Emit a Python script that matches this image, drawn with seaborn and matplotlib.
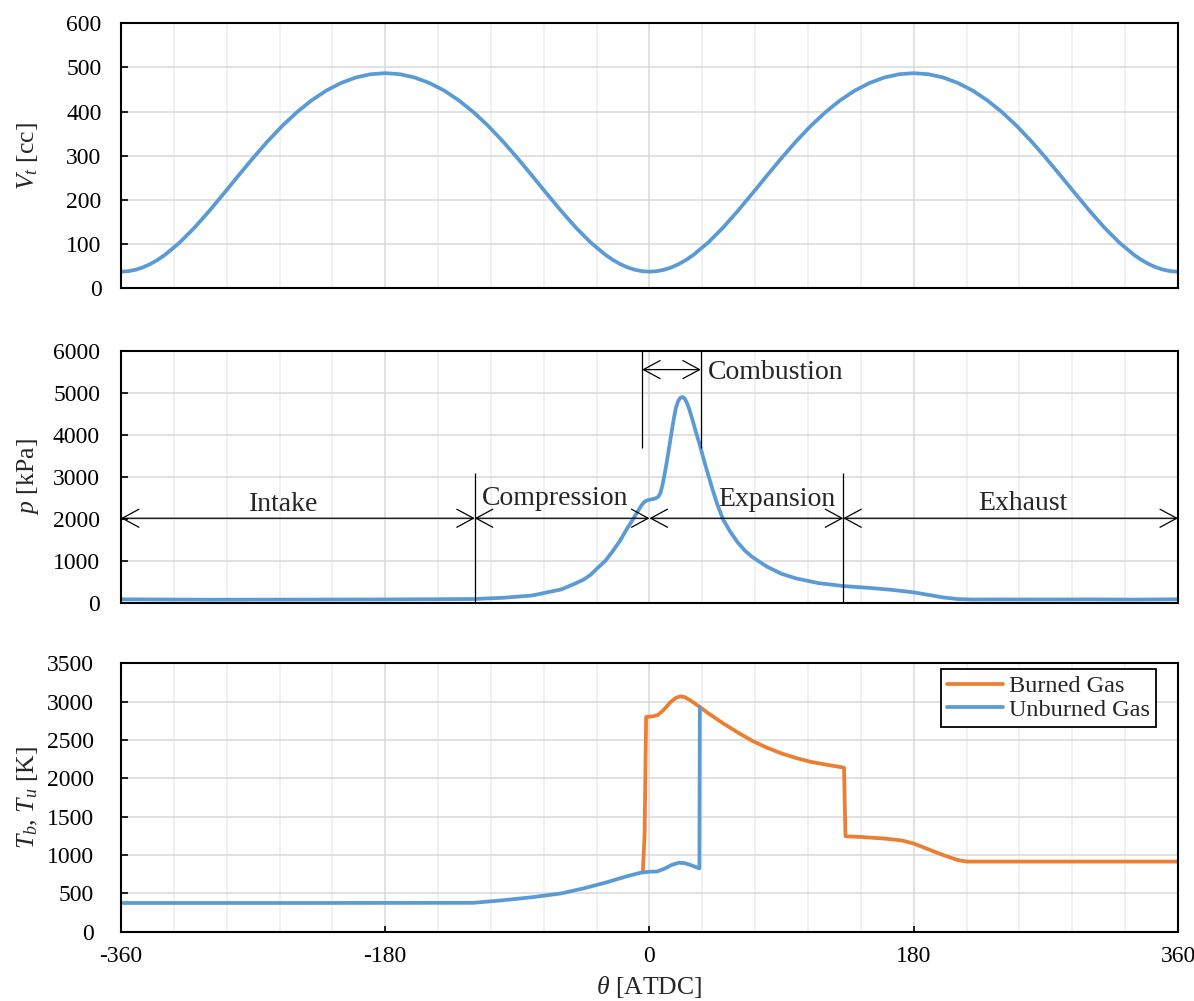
import numpy as np
import pandas as pd
import matplotlib
matplotlib.use("Agg")
import matplotlib.pyplot as plt
import seaborn as sns
from matplotlib.ticker import MultipleLocator, FixedLocator
from matplotlib.patches import ArrowStyle

# ---------------- data ----------------
theta_v = [-360, -355, -350, -345, -340, -335, -330, -320, -310, -300, -290, -280,
           -270, -260, -250, -240, -230, -220, -210, -200, -190, -180,
           -170, -160, -150, -140, -130, -120, -110, -100, -90, -80, -70, -60,
           -50, -40, -30, -25, -20, -15, -10, -5, 0,
           5, 10, 15, 20, 25, 30, 40, 50, 60, 70, 80, 90, 100, 110, 120, 130,
           140, 150, 160, 170, 180,
           190, 200, 210, 220, 230, 240, 250, 260, 270, 280, 290, 300, 310, 320,
           330, 335, 340, 345, 350, 355, 360]
vol = [37.0, 38.1, 41.4, 46.8, 54.3, 63.8, 75.2, 103.0, 136.5, 174.0, 214.0, 254.7,
       294.8, 332.9, 367.9, 399.0, 425.7, 447.8, 464.9, 477.2, 484.6, 487.0,
       484.6, 477.2, 464.9, 447.8, 425.7, 399.0, 367.9, 332.9, 294.8, 254.7, 214.0, 174.0,
       136.5, 103.0, 75.2, 63.8, 54.3, 46.8, 41.4, 38.1, 37.0,
       38.1, 41.4, 46.8, 54.3, 63.8, 75.2, 103.0, 136.5, 174.0, 214.0, 254.7, 294.8,
       332.9, 367.9, 399.0, 425.7, 447.8, 464.9, 477.2, 484.6, 487.0,
       484.6, 477.2, 464.9, 447.8, 425.7, 399.0, 367.9, 332.9, 294.8, 254.7, 214.0,
       174.0, 136.5, 103.0, 75.2, 63.8, 54.3, 46.8, 41.4, 38.1, 37.0]

theta_p = [-360, -300, -240, -180, -150, -120, -100, -80, -60, -50, -45, -40, -35,
           -30, -25, -20, -15, -12, -10, -8, -5, -3, -1, 1.5, 4, 6, 7.5, 9, 10.5,
           12, 13.5, 15, 16.5, 18, 19.5, 21, 22.5, 24, 25.5, 27, 28.5, 30, 32, 34,
           36, 38, 40, 43, 46, 50, 55, 60, 65, 70, 80, 90, 100, 115, 132, 150, 165,
           180, 190, 200, 210, 220, 240, 270, 300, 330, 360]
pres = [95, 85, 88, 92, 96, 102, 130, 185, 330, 480, 560, 680, 850,
        1010, 1240, 1490, 1790, 1950, 2070, 2180, 2350, 2420, 2450, 2470, 2490, 2530,
        2620, 2830, 3100, 3400, 3720, 4050, 4370, 4640, 4800, 4880, 4900, 4860, 4760,
        4620, 4450, 4270, 4020, 3800, 3540, 3290, 3050, 2700, 2370, 2000, 1700, 1450,
        1250, 1100, 870, 700, 590, 480, 410, 365, 320, 260, 200, 140, 100, 90, 92,
        90, 93, 88, 95]

theta_b = [-4.5, -3.3, -2.3, 0, 3, 6, 10, 14, 18, 21, 24, 28, 34, 40, 50, 60, 70, 80,
           90, 100, 110, 120, 132.5, 133.5, 145, 160, 172, 180, 190, 200, 210, 216,
           240, 300, 360]
temp_b = [783, 1280, 2800, 2805, 2812, 2830, 2900, 2990, 3050, 3070, 3060, 3015, 2935,
          2850, 2720, 2600, 2490, 2400, 2325, 2265, 2215, 2180, 2140, 1245, 1235, 1215,
          1190, 1150, 1075, 1000, 935, 915, 915, 915, 915]

theta_u = [-360, -240, -120, -100, -80, -60, -45, -30, -15, -6, 0, 5, 10, 15, 20, 24,
           28, 34, 34.3]
temp_u = [375, 375, 377, 410, 450, 500, 565, 640, 725, 770, 783, 785, 820, 870, 900,
          895, 870, 826, 2930]

x_ticks = [-360, -180, 0, 180, 360]
phase_names = ["Intake", "Compression", "Expansion", "Exhaust"]
phase_bounds = [-360, -119, 0, 132, 360]
comb_name = "Combustion"
comb_bounds = [-5, 35]
series_names = ["Burned Gas", "Unburned Gas"]

BLUE = "#5B9BD5"
ORANGE = "#ED7D31"

# ---------------- style ----------------
sns.set_theme(style="white")
plt.rcParams["font.family"] = ["Liberation Serif", "DejaVu Serif"]
plt.rcParams["mathtext.fontset"] = "custom"
plt.rcParams["mathtext.rm"] = "Liberation Serif"
plt.rcParams["mathtext.it"] = "Liberation Serif:italic"
plt.rcParams["axes.unicode_minus"] = False

fig = plt.figure(figsize=(11.94, 10.01), dpi=100)
L, W = 0.1013, 0.8853
ax1 = fig.add_axes([L, 0.7123, W, 0.2644])
ax2 = fig.add_axes([L, 0.3973, W, 0.2524])
ax3 = fig.add_axes([L, 0.0692, W, 0.2681])

df_v = pd.DataFrame({"theta": theta_v, "V": vol})
df_p = pd.DataFrame({"theta": theta_p, "p": pres})
df_b = pd.DataFrame({"theta": theta_b, "T": temp_b})
df_u = pd.DataFrame({"theta": theta_u, "T": temp_u})

LW = 2.7
sns.lineplot(data=df_v, x="theta", y="V", ax=ax1, color=BLUE, lw=LW,
             sort=False, estimator=None)
sns.lineplot(data=df_p, x="theta", y="p", ax=ax2, color=BLUE, lw=LW,
             sort=False, estimator=None)
sns.lineplot(data=df_b, x="theta", y="T", ax=ax3, color=ORANGE, lw=LW,
             sort=False, estimator=None, label=series_names[0])
sns.lineplot(data=df_u, x="theta", y="T", ax=ax3, color=BLUE, lw=LW,
             sort=False, estimator=None, label=series_names[1])


def style(ax, ytop, ystep, ypad, show_x):
    ax.set_xlim(-360, 360)
    ax.set_ylim(0, ytop)
    ax.xaxis.set_major_locator(FixedLocator(x_ticks))
    ax.xaxis.set_minor_locator(MultipleLocator(36))
    ax.yaxis.set_major_locator(MultipleLocator(ystep))
    ax.grid(which="major", color="#d9d9d9", lw=1.1)
    ax.grid(which="minor", axis="x", color="#eeeeee", lw=1.1)
    ax.set_axisbelow(True)
    for s in ax.spines.values():
        s.set_visible(True)
        s.set_color("black")
        s.set_linewidth(1.5)
    ax.tick_params(axis="y", which="major", direction="in", length=5, width=1.2,
                   pad=ypad, labelsize=17, left=True, colors="black")
    ax.tick_params(axis="x", which="major", direction="in",
                   length=4.5 if show_x else 0, width=1.2, pad=10, labelsize=17,
                   bottom=True, labelbottom=show_x, colors="black")
    ax.tick_params(which="minor", length=0)
    ax.set_xlabel("")


style(ax1, 600, 100, 14, False)
style(ax2, 6000, 1000, 15, False)
style(ax3, 3500, 500, 19.5, True)

ax1.set_ylabel(r"$V_t$ [cc]", fontsize=18.5)
ax2.set_ylabel(r"$p$ [kPa]", fontsize=18.5)
ax3.set_ylabel(r"$T_b$, $T_u$ [K]", fontsize=18.5)
for ax in (ax1, ax2, ax3):
    ax.yaxis.set_label_coords(-0.088, 0.5)
    ax.yaxis.label.set_va("center")
ax3.set_xlabel(r"$\theta$ [ATDC]", fontsize=18.5, labelpad=5)

# legend
leg = ax3.legend(loc="upper right", bbox_to_anchor=(0.979, 0.978), borderaxespad=0,
                 fontsize=17.5, frameon=True, fancybox=False, edgecolor="black",
                 framealpha=1, handlelength=2.3, handletextpad=0.25,
                 labelspacing=0.05, borderpad=0.25)
leg.get_frame().set_linewidth(1.3)

# ---------------- phase annotations on pressure panel ----------------
astyle = ArrowStyle("<->", head_length=12, head_width=6.5)
arrow_y = 2020
line_top = 3100
ann_kw = dict(arrowstyle=astyle, mutation_scale=1, shrinkA=0, shrinkB=0,
              lw=0.9, color="black")

for a, b in zip(phase_bounds[:-1], phase_bounds[1:]):
    ax2.annotate("", xy=(b, arrow_y), xytext=(a, arrow_y), arrowprops=ann_kw)

ax2.vlines([phase_bounds[1], phase_bounds[3]], 0, line_top, color="black", lw=0.9)
ax2.vlines(comb_bounds, 3700, 6000, color="black", lw=0.9)
ax2.annotate("", xy=(comb_bounds[1], 5550), xytext=(comb_bounds[0], 5550),
             arrowprops=ann_kw)

TFS = 20
ax2.text(-249, 2200, phase_names[0], fontsize=TFS, ha="center", va="baseline")
ax2.text(-114, 2330, phase_names[1], fontsize=TFS, ha="left", va="baseline")
ax2.text(87, 2300, phase_names[2], fontsize=TFS, ha="center", va="baseline")
ax2.text(254, 2220, phase_names[3], fontsize=TFS, ha="center", va="baseline")
ax2.text(39.7, 5320, comb_name, fontsize=TFS, ha="left", va="baseline")

fig.savefig("out.png", dpi=100, facecolor="white")
